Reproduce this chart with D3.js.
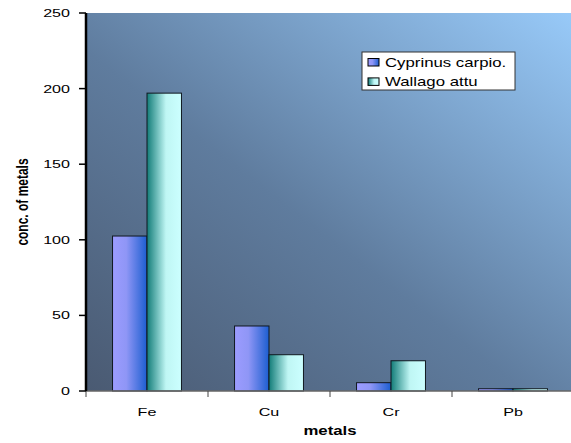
<!DOCTYPE html>
<html>
<head>
<meta charset="utf-8">
<script src="https://cdn.jsdelivr.net/npm/d3@7"></script>
<style>
  body { margin: 0; background: #fff; }
  svg text { font-family: "Liberation Sans", Arial, sans-serif; }
</style>
</head>
<body>
<svg id="chart"></svg>
<script>
// data
const metals = ['Fe', 'Cu', 'Cr', 'Pb'];
const series = ['Cyprinus carpio.', 'Wallago attu'];
const cyprinus = [102.5, 43, 5.5, 1.5];
const wallago = [197, 24, 20, 1.5];
const yTicks = [0, 50, 100, 150, 200, 250];

const W = 571, H = 443;
const margin = {top: 13, right: -3, bottom: 52, left: 86};
const width = W - margin.left - margin.right;
const height = H - margin.top - margin.bottom;
// text in the original is stretched sideways
const SX = 1.4;

const svg = d3.select('#chart').attr('width', W).attr('height', H);

const defs = svg.append('defs');
// plot background: dark slate bottom-left to light blue top-right
const bg = defs.append('linearGradient').attr('id', 'bg')
    .attr('x1', '0%').attr('y1', '100%').attr('x2', '100%').attr('y2', '0%');
bg.append('stop').attr('offset', '0%').attr('stop-color', '#4a5a72');
bg.append('stop').attr('offset', '45%').attr('stop-color', '#5f7c9e');
bg.append('stop').attr('offset', '100%').attr('stop-color', '#98caf9');

const g1 = defs.append('linearGradient').attr('id', 'g1');
g1.append('stop').attr('offset', '0%').attr('stop-color', '#9c9cff');
g1.append('stop').attr('offset', '40%').attr('stop-color', '#8f96f6');
g1.append('stop').attr('offset', '100%').attr('stop-color', '#1c5ed0');

const g2 = defs.append('linearGradient').attr('id', 'g2');
g2.append('stop').attr('offset', '0%').attr('stop-color', '#127c78');
g2.append('stop').attr('offset', '55%').attr('stop-color', '#bff6f4');
g2.append('stop').attr('offset', '100%').attr('stop-color', '#ccffff');

const chart = svg.append('g').attr('transform', `translate(${margin.left},${margin.top})`);

const x = d3.scaleBand().domain(metals).range([0, width]);
const xs = d3.scaleBand().domain(series).range([0, x.bandwidth()]).paddingOuter(0.77).paddingInner(0);
const y = d3.scaleLinear().domain([0, 250]).range([height, 0]);

chart.append('rect').attr('width', width).attr('height', height).attr('fill', 'url(#bg)');

const rows = metals.map((m, i) => ({metal: m, vals: [cyprinus[i], wallago[i]]}));

const grp = chart.selectAll('.grp').data(rows).join('g')
    .attr('transform', d => `translate(${x(d.metal)},0)`);

grp.selectAll('rect').data(d => d.vals.map((v, j) => ({s: series[j], v, j}))).join('rect')
    .attr('x', d => xs(d.s))
    .attr('y', d => y(d.v))
    .attr('width', xs.bandwidth())
    .attr('height', d => height - y(d.v))
    .attr('fill', d => d.j === 0 ? 'url(#g1)' : 'url(#g2)')
    .attr('stroke', '#101820')
    .attr('stroke-width', 1);

// x axis
const xAxisG = chart.append('g').attr('transform', `translate(0,${height})`);
xAxisG.append('line').attr('x1', 0).attr('x2', width).attr('stroke', '#666').attr('stroke-width', 1.5);
xAxisG.selectAll('.tk').data(metals).join('line')
    .attr('x1', d => x(d)).attr('x2', d => x(d)).attr('y1', 0).attr('y2', 6)
    .attr('stroke', '#444');
xAxisG.selectAll('.lb').data(metals).join('text')
    .attr('transform', d => `translate(${x(d) + x.bandwidth() / 2},25) scale(${SX},1)`)
    .attr('text-anchor', 'middle')
    .attr('font-size', 11.5)
    .attr('fill', '#000')
    .text(d => d);

// y axis
const yAxisG = chart.append('g');
yAxisG.append('line').attr('x1', 0).attr('x2', 0).attr('y1', 0).attr('y2', height)
    .attr('stroke', '#000').attr('stroke-width', 2.5);
yAxisG.selectAll('.tk').data(yTicks).join('line')
    .attr('x1', -7).attr('x2', 0).attr('y1', d => y(d)).attr('y2', d => y(d))
    .attr('stroke', '#000').attr('stroke-width', 1.5);
yAxisG.selectAll('.lb').data(yTicks).join('text')
    .attr('transform', d => `translate(-16,${y(d)}) scale(${SX},1)`)
    .attr('dy', '0.35em')
    .attr('text-anchor', 'end')
    .attr('font-size', 11.5)
    .text(d => d);

// axis titles
svg.append('text')
    .attr('transform', `translate(330,435) scale(${SX},1)`)
    .attr('text-anchor', 'middle')
    .attr('font-size', 12).attr('font-weight', 'bold')
    .text('metals');

svg.append('text')
    .attr('transform', `translate(28,202) scale(${SX},1) rotate(-90)`)
    .attr('text-anchor', 'middle')
    .attr('font-size', 12).attr('font-weight', 'bold')
    .text('conc. of metals');

// legend
const leg = svg.append('g').attr('transform', 'translate(362,52)');
leg.append('rect').attr('width', 153).attr('height', 38)
    .attr('fill', '#fff').attr('stroke', '#333').attr('stroke-width', 1);
const li = leg.selectAll('.li').data(series).join('g')
    .attr('transform', (d, i) => `translate(6,${10.3 + i * 19.4})`);
li.append('rect').attr('x', 0).attr('y', -3.8).attr('width', 11).attr('height', 7.5)
    .attr('fill', (d, i) => i === 0 ? 'url(#g1)' : 'url(#g2)')
    .attr('stroke', '#000');
li.append('text')
    .attr('transform', `translate(17,0) scale(${SX},1)`)
    .attr('dy', '0.36em')
    .attr('font-size', 12).text(d => d);
</script>
</body>
</html>
